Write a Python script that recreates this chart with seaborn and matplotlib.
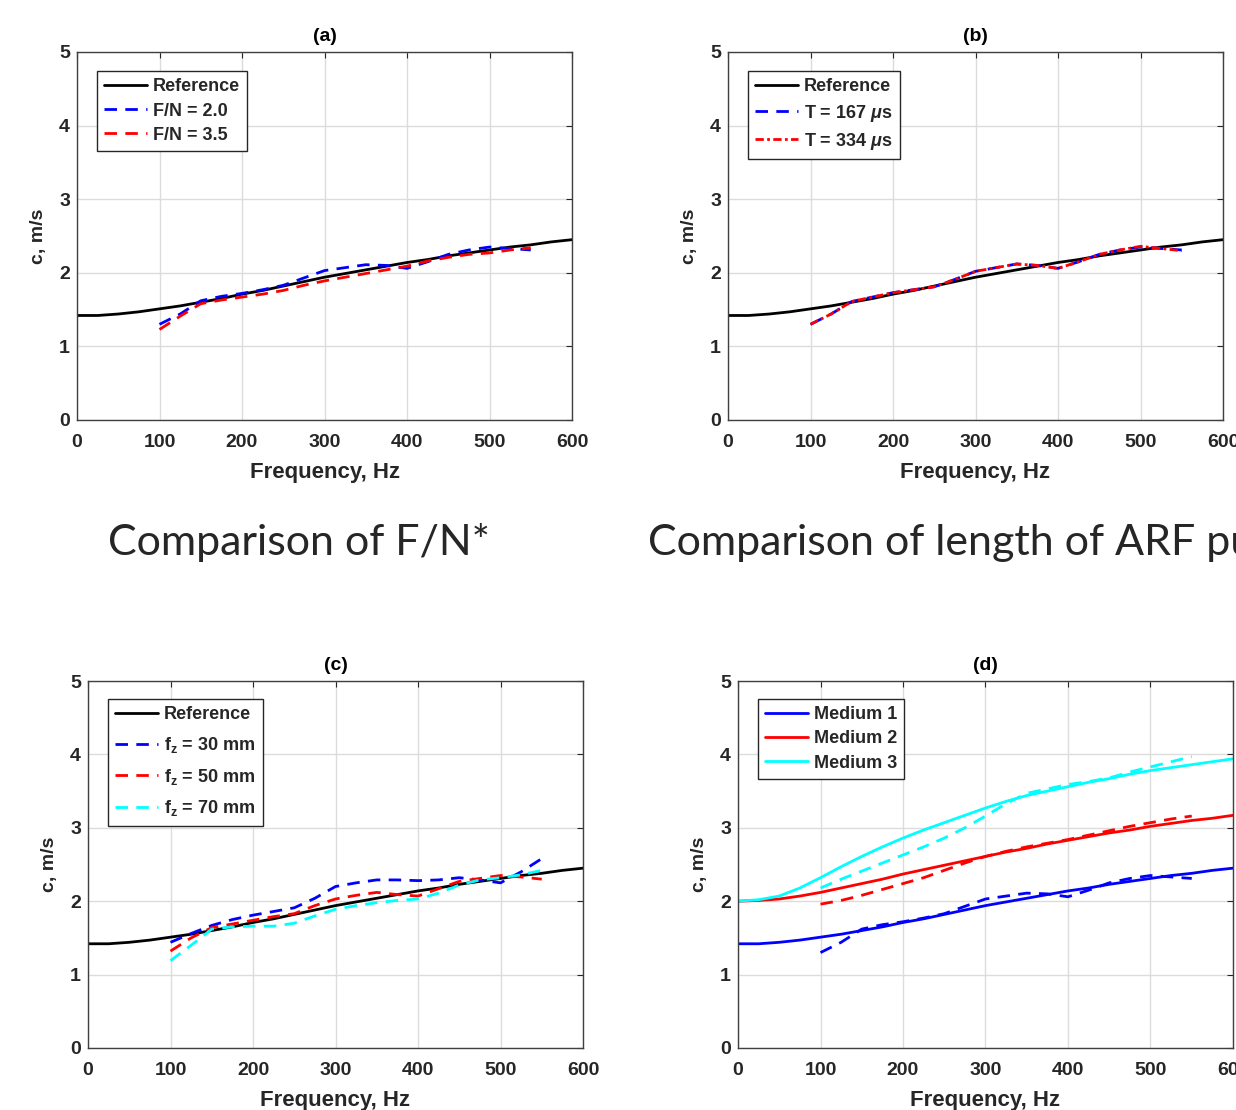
import numpy as np
import pandas as pd
import seaborn as sns
import matplotlib.pyplot as plt

# Frequency grids (Hz)
freq_ref = [0, 25, 50, 75, 100, 125, 150, 175, 200, 225, 250, 275, 300,
            325, 350, 375, 400, 425, 450, 475, 500, 525, 550, 575, 600]
freq_meas = [100, 125, 150, 175, 200, 225, 250, 275, 300, 325, 350,
             375, 400, 425, 450, 475, 500, 525, 550]

# Reference / model curves (m/s)
ref_medium1 = [1.42, 1.42, 1.44, 1.47, 1.51, 1.55, 1.60, 1.65, 1.71, 1.76, 1.82, 1.88, 1.94,
               1.99, 2.04, 2.09, 2.14, 2.18, 2.23, 2.27, 2.31, 2.35, 2.38, 2.42, 2.45]
ref_medium2 = [2.00, 2.01, 2.03, 2.07, 2.12, 2.18, 2.24, 2.30, 2.37, 2.43, 2.49, 2.55, 2.61,
               2.67, 2.72, 2.78, 2.83, 2.88, 2.93, 2.97, 3.02, 3.06, 3.10, 3.13, 3.17]
ref_medium3 = [2.00, 2.02, 2.07, 2.18, 2.32, 2.47, 2.61, 2.74, 2.86, 2.97, 3.07, 3.17, 3.27,
               3.36, 3.44, 3.50, 3.56, 3.62, 3.67, 3.73, 3.78, 3.82, 3.86, 3.90, 3.94]

# (a) F/N comparison
fn_20 = [1.30, 1.44, 1.62, 1.68, 1.72, 1.77, 1.83, 1.93, 2.03, 2.07, 2.11,
         2.10, 2.06, 2.15, 2.25, 2.31, 2.35, 2.33, 2.31]
fn_35 = [1.23, 1.41, 1.58, 1.63, 1.67, 1.71, 1.76, 1.83, 1.89, 1.94, 1.99,
         2.04, 2.09, 2.16, 2.21, 2.25, 2.27, 2.31, 2.34]

# (b) pulse length comparison
t_167 = [1.30, 1.44, 1.61, 1.67, 1.73, 1.77, 1.81, 1.91, 2.02, 2.07, 2.12,
         2.10, 2.06, 2.15, 2.25, 2.31, 2.35, 2.33, 2.31]
t_334 = [1.30, 1.44, 1.61, 1.67, 1.73, 1.77, 1.81, 1.91, 2.02, 2.07, 2.12,
         2.10, 2.06, 2.15, 2.25, 2.31, 2.36, 2.33, 2.30]

# (c) focal depth comparison
fz_30 = [1.44, 1.56, 1.67, 1.75, 1.81, 1.86, 1.91, 2.04, 2.20, 2.25, 2.29,
         2.29, 2.28, 2.29, 2.32, 2.29, 2.25, 2.40, 2.58]
fz_50 = [1.32, 1.50, 1.64, 1.69, 1.74, 1.79, 1.83, 1.94, 2.03, 2.08, 2.12,
         2.09, 2.07, 2.17, 2.27, 2.31, 2.35, 2.33, 2.30]
fz_70 = [1.19, 1.40, 1.62, 1.65, 1.66, 1.66, 1.70, 1.80, 1.89, 1.94, 1.98,
         2.01, 2.03, 2.11, 2.22, 2.29, 2.32, 2.36, 2.42]

# (d) different media, measured
meas_medium1 = fn_20
meas_medium2 = [1.96, 2.01, 2.08, 2.16, 2.24, 2.32, 2.42, 2.52, 2.61, 2.68, 2.74,
                2.79, 2.84, 2.90, 2.96, 3.02, 3.07, 3.12, 3.16]
meas_medium3 = [2.18, 2.30, 2.41, 2.52, 2.63, 2.74, 2.86, 3.00, 3.16, 3.33, 3.47,
                3.53, 3.59, 3.63, 3.68, 3.76, 3.83, 3.90, 3.97]

BLUE = '#0000ff'
RED = '#ff0000'
CYAN = '#00ffff'
DASH = (4.5, 3.0)
DASHDOT = (3.0, 1.2, 1.0, 1.2)

sns.set_theme(style='white')
plt.rcParams['font.family'] = ['Liberation Sans', 'DejaVu Sans']
plt.rcParams['font.weight'] = 'bold'
plt.rcParams['mathtext.fontset'] = 'custom'
plt.rcParams['mathtext.rm'] = 'Liberation Sans'
plt.rcParams['mathtext.it'] = 'Liberation Sans:italic'
plt.rcParams['mathtext.bf'] = 'Liberation Sans:bold'

W, H = 1236, 1110
fig = plt.figure(figsize=(W / 100, H / 100), dpi=100)


def make_axes(x0, y_top, y_bot, width=495):
    return fig.add_axes([x0 / W, (H - y_bot) / H, width / W, (y_bot - y_top) / H])


def style_axes(ax, title):
    ax.set_xlim(0, 600)
    ax.set_ylim(0, 5)
    ax.set_xticks(range(0, 601, 100))
    ax.set_yticks(range(0, 6))
    ax.grid(True, color='#dcdcdc', linewidth=1.0)
    ax.set_axisbelow(True)
    ax.tick_params(direction='in', length=4, width=0.8, top=True, right=True,
                   labelsize=14, colors='#262626', labelcolor='#262626')
    ax.tick_params(axis='x', pad=10)
    ax.tick_params(axis='y', pad=5)
    for lab in ax.get_xticklabels() + ax.get_yticklabels():
        lab.set_fontweight('bold')
    for sp in ax.spines.values():
        sp.set_color('#404040')
        sp.set_linewidth(1.0)
    ax.set_xlabel('Frequency, Hz', fontsize=16, fontweight='bold', color='#262626', labelpad=8)
    ax.set_ylabel('c, m/s', fontsize=14, fontweight='bold', color='#262626', labelpad=9)
    ax.set_title(title, fontsize=14, fontweight='bold', color='#000000', pad=8)


def add_line(ax, x, y, color, label, style=None, lw=2.0):
    line = sns.lineplot(x=x, y=y, ax=ax, color=color, linewidth=lw, label=label,
                        sort=False, estimator=None).get_lines()[-1]
    if style is not None:
        line.set_dashes(style)
    return line


def finish_legend(ax, ypos, spacing=0.4):
    leg = ax.legend(loc='upper left', bbox_to_anchor=(0.04, ypos), frameon=True,
                    fancybox=False, edgecolor='#262626', framealpha=1.0,
                    prop={'size': 13, 'weight': 'bold'}, handlelength=2.4,
                    handletextpad=0.3, labelspacing=spacing, borderpad=0.4,
                    borderaxespad=0)
    leg.get_frame().set_linewidth(1.0)


# (a)
ax_a = make_axes(77, 52, 420)
add_line(ax_a, freq_ref, ref_medium1, 'black', 'Reference')
add_line(ax_a, freq_meas, fn_20, BLUE, 'F/N = 2.0', DASH)
add_line(ax_a, freq_meas, fn_35, RED, 'F/N = 3.5', DASH)
style_axes(ax_a, '(a)')
finish_legend(ax_a, 0.948)

# (b)
ax_b = make_axes(728, 52, 420)
add_line(ax_b, freq_ref, ref_medium1, 'black', 'Reference')
add_line(ax_b, freq_meas, t_167, BLUE, r'T = 167 $\mathit{\mu}$s', DASH)
add_line(ax_b, freq_meas, t_334, RED, r'T = 334 $\mathit{\mu}$s', DASHDOT)
style_axes(ax_b, '(b)')
finish_legend(ax_b, 0.948)

# (c)
ax_c = make_axes(88, 681, 1048)
add_line(ax_c, freq_ref, ref_medium1, 'black', 'Reference')
add_line(ax_c, freq_meas, fz_30, BLUE, r'$\mathbf{f_z}$ = 30 mm', DASH)
add_line(ax_c, freq_meas, fz_50, RED, r'$\mathbf{f_z}$ = 50 mm', DASH)
add_line(ax_c, freq_meas, fz_70, CYAN, r'$\mathbf{f_z}$ = 70 mm', DASH)
style_axes(ax_c, '(c)')
finish_legend(ax_c, 0.951, spacing=0.65)

# (d)
ax_d = make_axes(738, 681, 1048)
add_line(ax_d, freq_ref, ref_medium1, BLUE, 'Medium 1')
add_line(ax_d, freq_ref, ref_medium2, RED, 'Medium 2')
add_line(ax_d, freq_ref, ref_medium3, CYAN, 'Medium 3')
add_line(ax_d, freq_meas, meas_medium1, BLUE, '_nolegend_', DASH)
add_line(ax_d, freq_meas, meas_medium2, RED, '_nolegend_', DASH)
add_line(ax_d, freq_meas, meas_medium3, CYAN, '_nolegend_', DASH)
style_axes(ax_d, '(d)')
finish_legend(ax_d, 0.951)

# slide captions
fig.text(108 / W, (H - 543) / H, 'Comparison of F/N*', fontsize=31,
         family=['Lato', 'DejaVu Sans'], fontweight='normal', va='center', ha='left')
fig.text(648 / W, (H - 543) / H, 'Comparison of length of ARF pulse', fontsize=31,
         family=['Lato', 'DejaVu Sans'], fontweight='normal', va='center', ha='left')

fig.savefig('out.png', dpi=100)
